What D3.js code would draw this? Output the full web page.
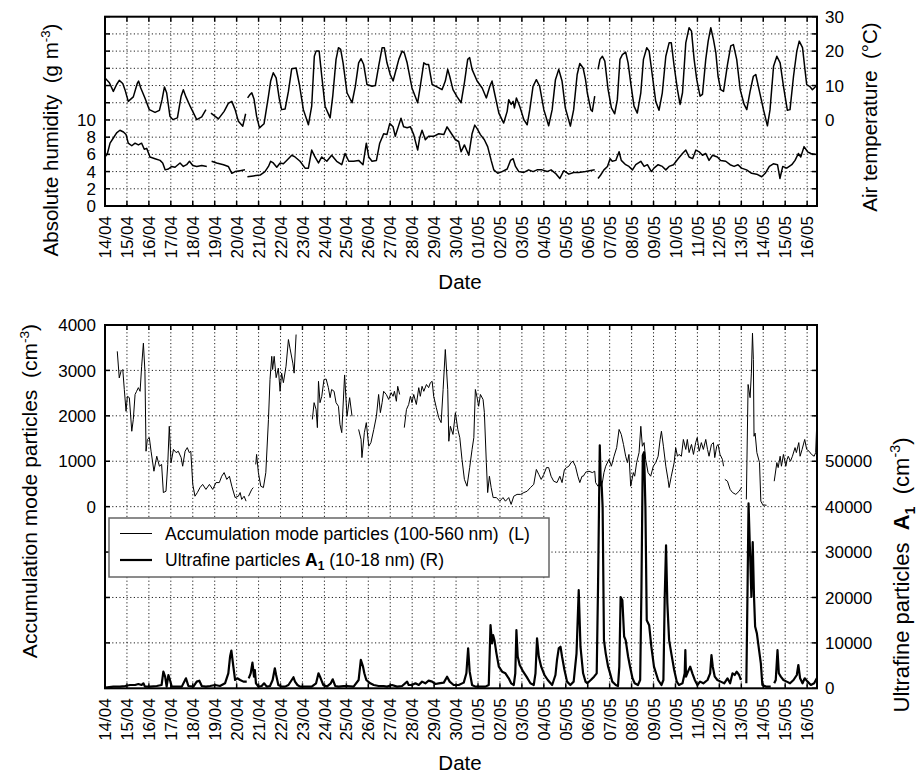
<!DOCTYPE html>
<html>
<head>
<meta charset="utf-8">
<script src="https://cdn.jsdelivr.net/npm/d3@7"></script>
<style>
body { margin: 0; background: #fff; }
text { font-family: "Liberation Sans", Arial, sans-serif; fill: #000; }
.tick-label { font-size: 17px; }
.axis-title { font-size: 20.5px; }
.legend-text { font-size: 17.5px; white-space: pre; }
.grid { stroke: #222; stroke-width: 1; stroke-dasharray: 1.2 2.4; }
.tick { stroke: #000; stroke-width: 1.5; }
.frame { fill: none; stroke: #000; stroke-width: 2; }
</style>
</head>
<body>
<script>
const width = 922;
const height = 774;

const svg = d3.select("body")
    .append("svg")
    .attr("width", width)
    .attr("height", height);

// [days since 14/04 00:00, value]; a null value marks a gap in the record
const temperature = [
    [0.00, 12.2], [0.20, 10.8], [0.38, 8.3], [0.53, 10.3], [0.65, 11.5], [0.81, 10.6], [0.91, 8.8], [1.06, 5.4],
    [1.29, 6.7], [1.47, 10.6], [1.53, 11.3], [1.63, 9.3], [1.82, 6.4], [2.02, 3.0], [2.28, 2.2], [2.48, 2.8],
    [2.60, 5.9], [2.71, 9.6], [2.81, 7.9], [2.96, 1.1], [3.09, 0.1], [3.30, 0.6], [3.47, 6.9], [3.57, 8.8],
    [3.69, 6.7], [3.88, 4.0], [4.18, 0.1], [4.41, 0.9], [4.60, 3.0], [4.72, null],
    [4.83, 2.0], [5.17, 0.3], [5.43, 2.5], [5.62, 4.8], [5.78, 5.4], [5.93, 3.0], [6.08, -0.4], [6.28, -1.8],
    [6.41, 1.8], [6.45, null],
    [6.50, 6.4], [6.61, 7.4], [6.69, 7.9], [6.79, 6.1], [6.91, 1.1], [7.04, -2.3], [7.25, -1.1], [7.45, 6.9],
    [7.55, 11.3], [7.67, 13.7], [7.80, 12.2], [7.95, 5.9], [8.05, 3.0], [8.21, 3.2], [8.36, 8.3], [8.51, 14.9],
    [8.71, 15.1], [8.86, 10.3], [9.04, 3.0], [9.27, -1.4], [9.42, 4.0], [9.54, 18.5], [9.62, 20.0], [9.76, 20.0],
    [9.88, 12.7], [10.03, 4.0], [10.26, 0.6], [10.38, 6.9], [10.53, 17.6], [10.64, 21.0], [10.74, 20.5], [10.85, 16.6],
    [11.03, 7.9], [11.26, 5.0], [11.41, 9.8], [11.56, 16.6], [11.67, 17.8], [11.79, 16.1], [11.94, 10.3], [12.17, 9.8],
    [12.32, 10.0], [12.47, 15.6], [12.63, 21.0], [12.73, 21.0], [12.85, 16.6], [13.00, 13.2], [13.13, 11.3], [13.23, 13.7],
    [13.39, 17.6], [13.54, 20.0], [13.64, 19.5], [13.77, 16.6], [13.99, 9.3], [14.25, 5.0], [14.37, 9.8], [14.53, 16.6],
    [14.65, 16.1], [14.75, 16.1], [14.91, 10.3], [15.13, 9.6], [15.36, 8.8], [15.51, 11.3], [15.62, 14.7], [15.71, 12.7],
    [15.86, 8.8], [16.05, 6.7], [16.23, 5.0], [16.38, 10.8], [16.53, 17.6], [16.62, 18.1], [16.73, 14.7], [16.96, 11.3],
    [17.19, 9.3], [17.38, 6.4], [17.54, 9.8], [17.64, 11.3], [17.75, 7.9], [17.95, 2.0], [18.17, -0.9], [18.33, 2.5],
    [18.40, 5.9], [18.51, 4.5], [18.60, 5.4], [18.66, 3.5], [18.75, 6.4], [18.90, 4.0], [19.09, 0.1], [19.24, -1.4],
    [19.36, 3.0], [19.51, 9.8], [19.66, 11.7], [19.81, 9.8], [20.00, 3.0], [20.22, -1.7], [20.38, 3.0], [20.53, 11.7],
    [20.68, 14.7], [20.83, 11.3], [20.98, 3.5], [21.21, -1.8], [21.36, 3.0], [21.52, 13.2], [21.64, 16.4], [21.79, 15.1],
    [21.90, 11.7], [21.98, 7.9], [22.14, 3.0], [22.21, 2.5], [22.32, 6.9], [22.40, null],
    [22.47, 14.7], [22.56, 17.6], [22.67, 18.5], [22.78, 17.1], [22.93, 8.8], [23.08, 3.5], [23.23, 1.8], [23.35, 5.9],
    [23.47, 17.6], [23.58, 19.0], [23.73, 19.7], [23.84, 16.6], [23.96, 10.8], [24.11, 4.0], [24.26, 2.0], [24.42, 7.9],
    [24.54, 17.6], [24.69, 21.0], [24.80, 20.0], [24.95, 12.7], [25.10, 5.4], [25.25, 2.8], [25.40, 7.9], [25.56, 18.5],
    [25.71, 22.4], [25.81, 22.4], [25.94, 15.6], [26.09, 8.8], [26.21, 4.5], [26.32, 7.9], [26.47, 22.4], [26.62, 26.8],
    [26.73, 25.8], [26.85, 17.6], [26.97, 11.7], [27.12, 6.9], [27.23, 7.4], [27.38, 17.6], [27.49, 22.9], [27.61, 26.8],
    [27.73, 23.4], [27.84, 19.5], [27.94, 12.7], [28.06, 8.8], [28.19, 8.3], [28.37, 16.1], [28.52, 21.5], [28.64, 21.9],
    [28.79, 17.6], [28.95, 8.8], [29.13, 4.5], [29.25, 3.0], [29.40, 8.3], [29.55, 12.7], [29.66, 13.2], [29.81, 8.8],
    [30.01, 3.0], [30.19, -1.7], [30.31, 3.0], [30.47, 15.6], [30.62, 18.5], [30.77, 16.6], [30.92, 9.8], [31.10, 2.8],
    [31.22, 3.0], [31.38, 12.7], [31.53, 20.0], [31.64, 22.9], [31.79, 21.0], [31.91, 14.2], [31.98, 10.3], [32.14, 9.6],
    [32.24, 8.8], [32.40, 9.8]
];

const humidity = [
    [0.00, 5.7], [0.11, 6.1], [0.23, 7.3], [0.38, 7.9], [0.53, 8.5], [0.68, 8.8], [0.84, 8.6], [0.96, 8.3],
    [1.06, 7.3], [1.22, 7.0], [1.37, 7.3], [1.52, 7.1], [1.67, 7.3], [1.79, 6.6], [1.90, 6.7], [2.05, 5.7],
    [2.28, 5.5], [2.51, 5.3], [2.63, 5.0], [2.74, 4.2], [2.89, 4.3], [3.04, 4.6], [3.19, 4.5], [3.42, 5.0],
    [3.57, 4.6], [3.72, 4.8], [3.85, 5.2], [4.00, 4.7], [4.18, 4.6], [4.41, 4.7], [4.64, 4.6], [4.72, null],
    [4.86, 5.2], [5.09, 5.0], [5.40, 4.8], [5.62, 4.6], [5.78, 3.8], [5.93, 4.0], [6.16, 4.1], [6.38, 4.2], [6.45, null],
    [6.49, 3.4], [6.76, 3.5], [7.07, 3.6], [7.29, 4.0], [7.45, 4.6], [7.55, 5.2], [7.67, 5.0], [7.83, 4.5],
    [7.98, 5.0], [8.13, 4.9], [8.28, 5.3], [8.51, 5.9], [8.66, 5.7], [8.89, 5.2], [9.12, 4.4], [9.27, 4.4],
    [9.42, 6.5], [9.57, 5.7], [9.73, 5.0], [9.88, 5.7], [10.11, 5.2], [10.33, 5.9], [10.56, 5.2], [10.79, 4.8],
    [10.94, 6.1], [11.11, 5.2], [11.33, 5.2], [11.56, 5.3], [11.76, 4.8], [11.91, 7.3], [12.02, 5.7], [12.17, 5.2],
    [12.37, 5.3], [12.52, 7.3], [12.70, 8.4], [12.85, 8.3], [12.98, 9.6], [13.13, 9.2], [13.23, 8.1], [13.39, 9.4],
    [13.49, 10.2], [13.61, 9.2], [13.77, 9.1], [13.92, 9.2], [14.07, 8.3], [14.25, 6.5], [14.34, 7.9], [14.45, 8.8],
    [14.60, 7.7], [14.75, 8.1], [14.98, 8.1], [15.21, 8.4], [15.44, 8.3], [15.59, 9.2], [15.74, 8.6], [15.97, 7.7],
    [16.12, 7.5], [16.23, 6.3], [16.38, 7.1], [16.58, 5.9], [16.73, 8.4], [16.85, 9.4], [16.96, 9.0], [17.11, 8.3],
    [17.29, 7.7], [17.44, 6.9], [17.60, 5.3], [17.72, 4.2], [17.90, 3.8], [18.10, 4.0], [18.33, 4.3], [18.48, 5.3],
    [18.60, 5.5], [18.71, 4.6], [18.86, 4.0], [19.09, 3.9], [19.31, 4.2], [19.51, 4.0], [19.69, 4.2], [19.92, 4.2],
    [20.15, 4.0], [20.33, 4.2], [20.53, 3.8], [20.73, 3.2], [20.91, 4.1], [21.14, 3.7], [21.36, 3.9], [21.59, 3.9],
    [21.90, 4.0], [22.32, 4.2], [22.40, null],
    [22.47, 3.2], [22.59, 3.6], [22.74, 4.2], [22.90, 4.6], [23.02, 5.5], [23.12, 5.2], [23.28, 5.3], [23.43, 6.3],
    [23.53, 5.3], [23.73, 4.8], [23.88, 4.6], [24.04, 4.2], [24.19, 4.8], [24.42, 5.2], [24.57, 4.6], [24.72, 4.8],
    [24.90, 4.0], [25.02, 4.4], [25.21, 4.8], [25.40, 4.6], [25.56, 4.2], [25.71, 4.6], [25.91, 4.8], [26.12, 5.5],
    [26.32, 6.1], [26.47, 6.5], [26.62, 5.7], [26.78, 5.5], [26.93, 6.5], [27.08, 6.3], [27.23, 5.9], [27.38, 6.1],
    [27.53, 5.3], [27.69, 5.9], [27.91, 5.7], [28.06, 5.3], [28.29, 5.2], [28.49, 4.8], [28.67, 4.6], [28.85, 4.8],
    [29.01, 4.4], [29.24, 4.2], [29.47, 3.8], [29.70, 3.7], [29.93, 3.4], [30.09, 3.8], [30.28, 4.6], [30.46, 4.9],
    [30.65, 4.8], [30.76, 3.2], [30.89, 4.6], [31.07, 4.4], [31.30, 4.8], [31.45, 5.3], [31.60, 6.1], [31.71, 5.7],
    [31.86, 6.9], [32.02, 6.3], [32.17, 6.1], [32.37, 6.0]
];

const accumulation = [
    [0.56, 3420], [0.65, 2835], [0.73, 2980], [0.81, 3020], [0.88, 2580], [0.96, 2100], [1.02, 2430], [1.11, 2400],
    [1.22, 1660], [1.29, 1920], [1.37, 2470], [1.44, 2540], [1.52, 2620], [1.60, 2540], [1.67, 3090], [1.75, 3600],
    [1.82, 2980], [1.87, 1220], [1.93, 1480], [2.02, 1520], [2.10, 1220], [2.23, 780], [2.36, 1110], [2.48, 890],
    [2.58, 930], [2.66, 310], [2.78, 340], [2.86, 930], [2.93, 1770], [3.01, 970], [3.12, 1260], [3.24, 1190],
    [3.34, 1220], [3.47, 1080], [3.54, 890], [3.65, 1220], [3.75, 1300], [3.84, 1190], [3.91, 1220], [4.00, 490],
    [4.10, 230], [4.21, 310], [4.33, 420], [4.45, 490], [4.60, 380], [4.76, 490], [4.91, 380], [5.06, 530],
    [5.21, 530], [5.32, 670], [5.43, 750], [5.55, 600], [5.67, 670], [5.78, 450], [5.93, 200], [6.08, 230],
    [6.16, 310], [6.23, 160], [6.34, 230], [6.43, 120], [6.48, null],
    [6.54, 230], [6.69, 380], [6.76, 420], [6.80, null],
    [6.87, 930], [6.91, 1150], [6.99, 750], [7.10, 450], [7.22, 420], [7.33, 750], [7.45, 1920], [7.52, 2800],
    [7.60, 3310], [7.64, 3020], [7.71, 3310], [7.80, 2840], [7.90, 3050], [7.98, 2540], [8.05, 2940], [8.13, 2730],
    [8.25, 3090], [8.36, 3680], [8.43, 3490], [8.56, 3160], [8.62, 2940], [8.71, 3790], [8.80, null],
    [9.45, 1920], [9.53, 2290], [9.62, 2140], [9.68, 1740], [9.73, 2760], [9.80, 2290], [9.88, 2430], [9.98, 2800],
    [10.08, 2810], [10.18, 2620], [10.26, 2400], [10.33, 2580], [10.44, 2540], [10.53, 2290], [10.64, 2210], [10.71, 1810],
    [10.79, 1630], [10.92, 2900], [11.03, 1990], [11.15, 2400], [11.26, 1990], [11.35, null],
    [11.56, 1700], [11.67, 1480], [11.71, 1080], [11.82, 1630], [11.91, 1850], [12.02, 1330], [12.12, 1410], [12.25, 1700],
    [12.37, 1990], [12.47, 2470], [12.55, 2070], [12.63, 2290], [12.70, 2540], [12.82, 2470], [12.93, 2360], [13.04, 2510],
    [13.13, 2430], [13.19, 2540], [13.28, 2320], [13.34, 2650], [13.43, 2470], [13.50, null],
    [13.64, 1740], [13.74, 2140], [13.84, 2250], [13.92, 2430], [13.99, 2290], [14.07, 2470], [14.19, 2250], [14.30, 2620],
    [14.37, 2430], [14.45, 2650], [14.53, 2540], [14.65, 2690], [14.75, 2620], [14.83, 2730], [14.91, 2760], [14.98, 2430],
    [15.10, 2180], [15.21, 1960], [15.32, 1850], [15.41, 2580], [15.51, 3460], [15.62, 2580], [15.67, 1440], [15.74, 1770],
    [15.86, 1590], [15.97, 2070], [16.08, 1700], [16.17, 1520], [16.27, 1040], [16.38, 600], [16.50, 450], [16.62, 860],
    [16.73, 1260], [16.81, 1520], [16.88, 2580], [16.96, 2400], [17.03, 2210], [17.11, 2470], [17.23, 2360], [17.29, 2070],
    [17.38, 970], [17.44, 310], [17.52, 670], [17.60, 420], [17.69, 200], [17.84, 200], [17.99, 120], [18.14, 200],
    [18.25, 120], [18.40, 200], [18.51, 50], [18.63, 230], [18.78, 270], [18.94, 270], [19.09, 310], [19.24, 340],
    [19.39, 420], [19.54, 490], [19.66, 820], [19.77, 710], [19.88, 600], [20.00, 710], [20.12, 860], [20.22, 860],
    [20.33, 670], [20.45, 560], [20.60, 530], [20.73, 670], [20.83, 530], [20.94, 820], [21.03, 860], [21.14, 890],
    [21.24, 970], [21.33, 1000], [21.44, 890], [21.55, 670], [21.64, 530], [21.74, 670], [21.80, 670], [21.91, 760],
    [22.06, 780], [22.21, 750], [22.32, 780], [22.36, 530], [22.47, 450], [22.56, 530], [22.64, 450], [22.74, 750],
    [22.82, 890], [22.97, 1040], [23.08, 890], [23.20, 1110], [23.32, 1300], [23.43, 1700], [23.53, 1590], [23.63, 1370],
    [23.73, 1110], [23.81, 970], [23.88, 1150], [23.96, 450], [24.08, 750], [24.14, 670], [24.23, 970], [24.34, 1190],
    [24.42, 1770], [24.49, 1330], [24.57, 1410], [24.64, 1040], [24.75, 750], [24.87, 670], [24.99, 890], [25.10, 970],
    [25.21, 1110], [25.30, 1480], [25.36, 1660], [25.45, 1330], [25.56, 890], [25.66, 600], [25.71, 420], [25.81, 670],
    [25.94, 970], [26.01, 1300], [26.09, 1110], [26.16, 1150], [26.27, 1110], [26.36, 1480], [26.47, 1260], [26.54, 1480],
    [26.62, 1190], [26.73, 1370], [26.82, 1150], [26.92, 1410], [26.99, 1520], [27.08, 1220], [27.18, 1410], [27.27, 1260],
    [27.38, 1480], [27.46, 1260], [27.53, 1110], [27.64, 1370], [27.73, 1410], [27.79, 1080], [27.88, 1330], [27.94, 1370],
    [28.03, 1150], [28.14, 1040], [28.19, 890], [28.22, null],
    [28.25, 600], [28.37, 560], [28.49, 380], [28.60, 310], [28.75, 270], [28.90, 340], [29.01, 420], [29.10, null],
    [29.23, 160], [29.31, 2690], [29.40, 2400], [29.46, 2940], [29.51, 3820], [29.55, 3240], [29.58, 1550], [29.63, 1620],
    [29.71, 1190], [29.83, 970], [29.89, 120], [29.98, 40], [30.15, 30], [30.30, null],
    [30.50, 560], [30.62, 970], [30.68, 860], [30.77, 1110], [30.83, 890], [30.92, 1150], [31.03, 890], [31.09, 1040],
    [31.14, 1110], [31.24, 1000], [31.33, 1110], [31.45, 1300], [31.51, 1190], [31.62, 1410], [31.68, 1110], [31.77, 1260],
    [31.89, 1480], [31.98, 1260], [32.09, 1220], [32.20, 1150], [32.32, 1110], [32.39, 1190], [32.44, 1850]
];

const ultrafine = [
    [0.00, 150], [0.38, 370], [0.68, 370], [0.91, 510], [1.14, 730], [1.37, 730], [1.52, 950], [1.67, 730],
    [1.75, 1100], [1.82, 370], [2.05, 370], [2.36, 510], [2.58, 730], [2.66, 3660], [2.74, 2560], [2.81, 370],
    [2.89, 2930], [2.96, 1830], [3.04, 370], [3.27, 370], [3.50, 370], [3.69, 2200], [3.80, 510], [4.03, 370],
    [4.18, 1470], [4.30, 1680], [4.41, 510], [4.60, 370], [4.79, 510], [5.02, 730], [5.24, 510], [5.47, 1100],
    [5.62, 3300], [5.70, 7000], [5.76, 8300], [5.85, 4760], [5.93, 1830], [6.03, 2200], [6.16, 1830], [6.31, 1470],
    [6.46, 1470], [6.50, null],
    [6.55, 2200], [6.64, 3300], [6.72, 5650], [6.79, 2560], [6.83, 4000], [6.88, 1100], [6.99, 370], [7.14, 510],
    [7.25, 1100], [7.37, 370], [7.52, 510], [7.64, 1830], [7.74, 4400], [7.80, 2930], [7.90, 730], [8.05, 370],
    [8.21, 370], [8.36, 730], [8.51, 1830], [8.59, 2430], [8.66, 1470], [8.77, 730], [8.89, 370], [9.12, 370],
    [9.42, 370], [9.62, 1100], [9.73, 3300], [9.83, 2200], [9.95, 730], [10.11, 370], [10.29, 1100], [10.38, 1980],
    [10.49, 510], [10.64, 370], [10.87, 510], [11.03, 510], [11.33, 370], [11.56, 1830], [11.66, 6250], [11.76, 4760],
    [11.82, 3300], [11.91, 1830], [12.09, 1100], [12.25, 730], [12.47, 510], [12.70, 510], [12.85, 370], [13.08, 730],
    [13.31, 370], [13.54, 510], [13.77, 1470], [13.84, 730], [13.99, 730], [14.15, 1100], [14.30, 730], [14.45, 1470],
    [14.60, 1100], [14.75, 1680], [14.91, 1470], [15.06, 950], [15.21, 1100], [15.44, 1250], [15.59, 2560], [15.71, 1470],
    [15.89, 730], [16.12, 730], [16.35, 1250], [16.47, 3300], [16.55, 8790], [16.62, 3660], [16.73, 730], [16.88, 370],
    [17.11, 370], [17.34, 370], [17.49, 730], [17.57, 13900], [17.64, 9900], [17.69, 11700], [17.75, 10600], [17.84, 7700],
    [17.95, 4760], [18.10, 3660], [18.25, 3300], [18.40, 2200], [18.51, 1100], [18.63, 730], [18.70, 3300], [18.75, 12800],
    [18.81, 7000], [18.90, 5130], [19.06, 3660], [19.21, 2560], [19.39, 1100], [19.54, 730], [19.62, 3300], [19.69, 11000],
    [19.77, 7000], [19.88, 4760], [20.03, 2930], [20.18, 1830], [20.38, 730], [20.53, 2930], [20.60, 6230], [20.68, 8790],
    [20.76, 9160], [20.83, 7000], [20.94, 4030], [21.06, 1470], [21.21, 730], [21.36, 1470], [21.49, 7700], [21.59, 21600],
    [21.67, 9160], [21.79, 3300], [21.90, 1470], [21.98, 1100], [22.14, 1830], [22.29, 2560], [22.41, 3300], [22.47, 22300],
    [22.55, 53500], [22.59, 45800], [22.64, 44300], [22.68, 39900], [22.74, 10600], [22.82, 7700], [22.93, 4760], [23.02, 3300],
    [23.12, 1470], [23.28, 730], [23.38, 510], [23.44, 4760], [23.50, 20100], [23.58, 19400], [23.66, 11400], [23.73, 10600],
    [23.84, 7000], [23.93, 4760], [24.04, 2200], [24.14, 1100], [24.29, 730], [24.39, 1830], [24.45, 22300], [24.51, 51300],
    [24.57, 52000], [24.63, 39900], [24.69, 15000], [24.80, 13900], [24.90, 9160], [25.02, 4760], [25.21, 1830], [25.36, 730],
    [25.45, 1830], [25.51, 20100], [25.57, 31500], [25.63, 18700], [25.71, 10600], [25.81, 7700], [25.94, 4030], [26.06, 1470],
    [26.16, 730], [26.32, 1100], [26.42, 3300], [26.45, 8420], [26.48, 2560], [26.57, 3660], [26.67, 4760], [26.77, 3300],
    [26.88, 1830], [27.00, 730], [27.12, 1470], [27.27, 1100], [27.46, 1830], [27.58, 3300], [27.64, 7330], [27.70, 4760],
    [27.79, 2560], [27.91, 1830], [28.06, 1470], [28.22, 1100], [28.37, 2200], [28.49, 1100], [28.60, 3300], [28.70, 2930],
    [28.79, 3660], [28.90, 2930], [28.98, 1830], [29.05, null],
    [29.23, 1100], [29.28, 20000], [29.33, 40700], [29.40, 29700], [29.46, 20100], [29.52, 32200], [29.58, 20100], [29.63, 13600],
    [29.71, 12100], [29.81, 8420], [29.89, 5490], [29.96, 730], [30.12, 370], [30.34, 370], [30.42, null],
    [30.50, 1100], [30.57, 1830], [30.65, 8420], [30.71, 3300], [30.80, 2560], [30.92, 1830], [31.07, 1470], [31.22, 1100],
    [31.38, 1830], [31.53, 2930], [31.60, 5130], [31.68, 2200], [31.79, 1100], [31.89, 2200], [32.02, 1470], [32.17, 730],
    [32.32, 1100], [32.44, 2200]
];

const humidityLabels = [0, 2, 4, 6, 8, 10];
const temperatureLabels = [0, 10, 20, 30];
const accumulationLabels = [0, 1000, 2000, 3000, 4000];
const ultrafineLabels = [0, 10000, 20000, 30000, 40000, 50000];

const startDate = new Date(2008, 3, 14);
const toDate = (day) => d3.timeMinute.offset(startDate, Math.round(day * 1440));

const plotLeft = 105;
const plotRight = 817;

const x = d3.scaleTime()
    .domain([startDate, toDate(32.45)])
    .range([plotLeft, plotRight]);

const days = d3.timeDay.range(startDate, toDate(32.5));

const topPanel = {
    name: "top",
    top: 16.7,
    bottom: 206,
    yLeft: d3.scaleLinear().domain([0, 22]),
    yRight: d3.scaleLinear().domain([-25, 30]),
    leftTicks: d3.range(0, 22.01, 2),
    rightTicks: d3.range(-25, 30.01, 5),
    leftLabels: humidityLabels,
    rightLabels: temperatureLabels,
};

const bottomPanel = {
    name: "bottom",
    top: 325,
    bottom: 688.3,
    yLeft: d3.scaleLinear().domain([-4000, 4000]),
    yRight: d3.scaleLinear().domain([0, 80000]),
    leftTicks: d3.range(-4000, 4001, 1000),
    rightTicks: d3.range(0, 80001, 10000),
    leftLabels: accumulationLabels,
    rightLabels: ultrafineLabels,
};

function drawGrid(p) {
    p.yLeft.range([p.bottom, p.top]);
    p.yRight.range([p.bottom, p.top]);

    svg.append("clipPath")
        .attr("id", `clip-${p.name}`)
        .append("rect")
        .attr("x", plotLeft)
        .attr("y", p.top)
        .attr("width", plotRight - plotLeft)
        .attr("height", p.bottom - p.top);

    const g = svg.append("g");

    g.selectAll(".vgrid")
        .data(days.filter((d) => x(d) > plotLeft + 1))
        .enter()
        .append("line")
        .attr("class", "grid")
        .attr("x1", (d) => x(d))
        .attr("x2", (d) => x(d))
        .attr("y1", p.top)
        .attr("y2", p.bottom);

    g.selectAll(".hgrid")
        .data(p.leftTicks.slice(1, -1))
        .enter()
        .append("line")
        .attr("class", "grid")
        .attr("x1", plotLeft)
        .attr("x2", plotRight)
        .attr("y1", (d) => p.yLeft(d))
        .attr("y2", (d) => p.yLeft(d));
}

function drawAxes(p) {
    const g = svg.append("g");
    const tickLen = 5;

    // day ticks, pointing inward on both horizontal edges
    g.selectAll(".day-tick-bottom")
        .data(days)
        .enter()
        .append("line")
        .attr("class", "tick")
        .attr("x1", (d) => x(d))
        .attr("x2", (d) => x(d))
        .attr("y1", p.bottom)
        .attr("y2", p.bottom - tickLen);

    g.selectAll(".day-tick-top")
        .data(days)
        .enter()
        .append("line")
        .attr("class", "tick")
        .attr("x1", (d) => x(d))
        .attr("x2", (d) => x(d))
        .attr("y1", p.top)
        .attr("y2", p.top + tickLen);

    g.selectAll(".left-tick")
        .data(p.leftTicks)
        .enter()
        .append("line")
        .attr("class", "tick")
        .attr("x1", plotLeft)
        .attr("x2", plotLeft + tickLen)
        .attr("y1", (d) => p.yLeft(d))
        .attr("y2", (d) => p.yLeft(d));

    g.selectAll(".right-tick")
        .data(p.rightTicks)
        .enter()
        .append("line")
        .attr("class", "tick")
        .attr("x1", plotRight)
        .attr("x2", plotRight - tickLen)
        .attr("y1", (d) => p.yRight(d))
        .attr("y2", (d) => p.yRight(d));

    g.append("rect")
        .attr("class", "frame")
        .attr("x", plotLeft)
        .attr("y", p.top)
        .attr("width", plotRight - plotLeft)
        .attr("height", p.bottom - p.top);

    g.selectAll(".day-label")
        .data(days)
        .enter()
        .append("text")
        .attr("class", "tick-label")
        .attr("text-anchor", "end")
        .attr("dy", "0.36em")
        .attr("transform", (d) => `translate(${x(d)}, ${p.bottom + 10}) rotate(-90)`)
        .text(d3.timeFormat("%d/%m"));

    g.selectAll(".left-label")
        .data(p.leftLabels)
        .enter()
        .append("text")
        .attr("class", "tick-label")
        .attr("text-anchor", "end")
        .attr("x", 96)
        .attr("y", (d) => p.yLeft(d))
        .attr("dy", "0.36em")
        .text((d) => d);

    g.selectAll(".right-label")
        .data(p.rightLabels)
        .enter()
        .append("text")
        .attr("class", "tick-label")
        .attr("x", 825)
        .attr("y", (d) => p.yRight(d))
        .attr("dy", "0.36em")
        .text((d) => d);
}

function drawSeries(p, data, y, strokeWidth) {
    const line = d3.line()
        .defined((d) => d[1] !== null)
        .x((d) => x(toDate(d[0])))
        .y((d) => y(d[1]));

    svg.append("path")
        .datum(data)
        .attr("clip-path", `url(#clip-${p.name})`)
        .attr("fill", "none")
        .attr("stroke", "#000")
        .attr("stroke-width", strokeWidth)
        .attr("stroke-linejoin", "round")
        .attr("d", line);
}

// rotated axis title with optional superscript / bold subscript parts
function axisTitle(cx, cy, size, parts) {
    const t = svg.append("text")
        .attr("class", "axis-title")
        .attr("text-anchor", "middle")
        .style("font-size", `${size}px`)
        .style("white-space", "pre")
        .attr("transform", `translate(${cx}, ${cy}) rotate(-90)`);
    parts.forEach((part) => {
        const s = t.append("tspan").text(part.text);
        if (part.sup) s.style("font-size", `${size * 0.65}px`).attr("dy", -size * 0.4);
        if (part.after) s.attr("dy", size * 0.4);
        if (part.bold) s.attr("font-weight", "bold");
        if (part.sub) s.style("font-size", `${size * 0.65}px`).attr("font-weight", "bold").attr("dy", size * 0.25);
        if (part.afterSub) s.attr("dy", -size * 0.25);
    });
}

drawGrid(topPanel);
drawSeries(topPanel, temperature, topPanel.yRight, 1.5);
drawSeries(topPanel, humidity, topPanel.yLeft, 1.5);
drawAxes(topPanel);

drawGrid(bottomPanel);
drawSeries(bottomPanel, accumulation, bottomPanel.yLeft, 1);
drawSeries(bottomPanel, ultrafine, bottomPanel.yRight, 2.2);
drawAxes(bottomPanel);

axisTitle(58, 140, 20.5, [{ text: "Absolute humidity  (g m" }, { text: "-3", sup: true }, { text: ")", after: true }]);
axisTitle(877, 117, 20.5, [{ text: "Air temperature  (°C)" }]);
axisTitle(37, 491, 21, [{ text: "Accumulation mode particles  (cm" }, { text: "-3", sup: true }, { text: ")", after: true }]);
axisTitle(909, 575, 22, [
    { text: "Ultrafine particles  " },
    { text: "A", bold: true },
    { text: "1", sub: true },
    { text: "  (cm", afterSub: true },
    { text: "-3", sup: true },
    { text: ")", after: true },
]);

svg.append("text")
    .attr("class", "axis-title")
    .attr("text-anchor", "middle")
    .attr("x", 460)
    .attr("y", 289)
    .text("Date");

svg.append("text")
    .attr("class", "axis-title")
    .attr("text-anchor", "middle")
    .attr("x", 460)
    .attr("y", 770)
    .text("Date");

// legend
const legend = svg.append("g");

legend.append("rect")
    .attr("x", 109)
    .attr("y", 518)
    .attr("width", 440)
    .attr("height", 59)
    .attr("fill", "#fff")
    .attr("stroke", "#666")
    .attr("stroke-width", 1.5);

const legendRows = [
    { y: 533.5, width: 1 },
    { y: 560, width: 2.2 },
];

legend.selectAll(".legend-line")
    .data(legendRows)
    .enter()
    .append("line")
    .attr("x1", 120)
    .attr("x2", 152)
    .attr("y1", (d) => d.y)
    .attr("y2", (d) => d.y)
    .attr("stroke", "#000")
    .attr("stroke-width", (d) => d.width);

legend.append("text")
    .attr("class", "legend-text")
    .attr("x", 165)
    .attr("y", legendRows[0].y + 6.3)
    .text("Accumulation mode particles (100-560 nm)  (L)");

const row2 = legend.append("text")
    .attr("class", "legend-text")
    .attr("x", 165)
    .attr("y", legendRows[1].y + 6.3);
row2.append("tspan").text("Ultrafine particles ");
row2.append("tspan").attr("font-weight", "bold").text("A");
row2.append("tspan").attr("font-weight", "bold").attr("font-size", "12px").attr("dy", 4).text("1");
row2.append("tspan").attr("dy", -4).text(" (10-18 nm) (R)");
</script>
</body>
</html>
